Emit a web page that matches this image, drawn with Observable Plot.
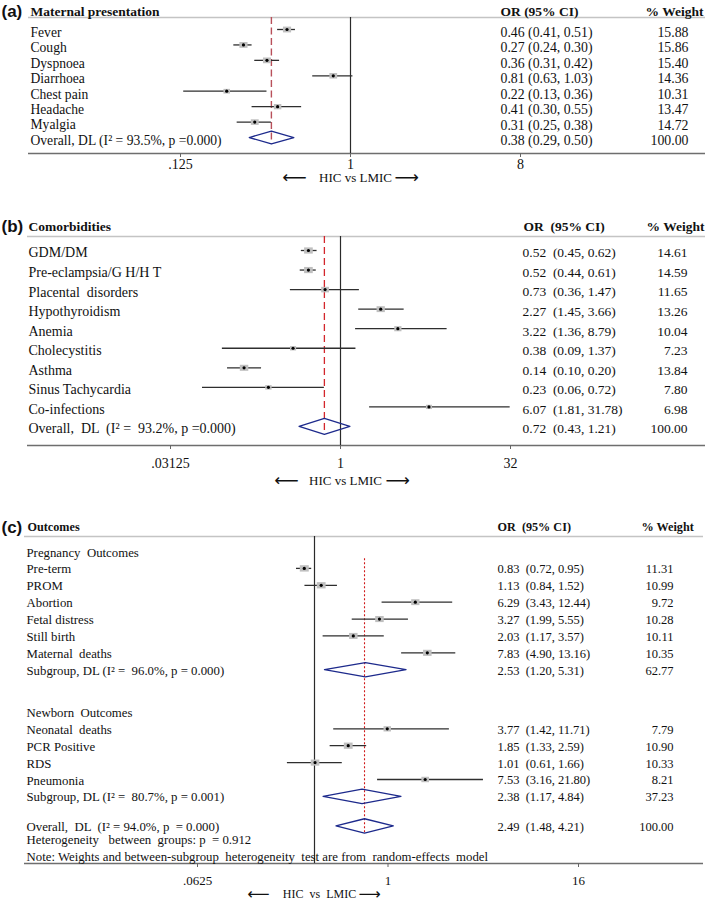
<!DOCTYPE html>
<html><head><meta charset="utf-8">
<script src="https://cdn.jsdelivr.net/npm/d3@7"></script>
<script src="https://cdn.jsdelivr.net/npm/@observablehq/plot@0.6"></script>
<style>
body{margin:0;background:#fff;}
#wrap{position:relative;width:709px;height:902px;overflow:hidden;background:#fff;}
#wrap > svg{position:absolute;left:0;}
</style></head><body><div id="wrap"></div>
<script>
// ---------- DATA ----------
// (a) Maternal presentation
const aLabels = ["Fever","Cough","Dyspnoea","Diarrhoea","Chest pain","Headache","Myalgia"];
const aOR     = [0.46, 0.27, 0.36, 0.81, 0.22, 0.41, 0.31];
const aLo     = [0.41, 0.24, 0.31, 0.63, 0.13, 0.30, 0.25];
const aHi     = [0.51, 0.30, 0.42, 1.03, 0.36, 0.55, 0.38];
const aWeight = [15.88, 15.86, 15.40, 14.36, 10.31, 13.47, 14.72];
const aOverallLabel = "Overall, DL (I² = 93.5%, p =0.000)";
const aOverall = [0.38, 0.29, 0.50, 100.00];
const aTicks = [0.125, 1, 8];

// (b) Comorbidities
const bLabels = ["GDM/DM","Pre-eclampsia/G H/H T","Placental  disorders","Hypothyroidism","Anemia","Cholecystitis","Asthma","Sinus Tachycardia","Co-infections"];
const bOR     = [0.52, 0.52, 0.73, 2.27, 3.22, 0.38, 0.14, 0.23, 6.07];
const bLo     = [0.45, 0.44, 0.36, 1.45, 1.36, 0.09, 0.10, 0.06, 1.81];
const bHi     = [0.62, 0.61, 1.47, 3.66, 8.79, 1.37, 0.20, 0.72, 31.78];
const bWeight = [14.61, 14.59, 11.65, 13.26, 10.04, 7.23, 13.84, 7.80, 6.98];
const bOverallLabel = "Overall,  DL  (I² =  93.2%, p =0.000)";
const bOverall = [0.72, 0.43, 1.21, 100.00];
const bTicks = [0.03125, 1, 32];

// (c) Outcomes
const cPregHeader = "Pregnancy  Outcomes";
const cPregLabels = ["Pre-term","PROM","Abortion","Fetal distress","Still birth","Maternal  deaths"];
const cPregOR     = [0.83, 1.13, 6.29, 3.27, 2.03, 7.83];
const cPregLo     = [0.72, 0.84, 3.43, 1.99, 1.17, 4.90];
const cPregHi     = [0.95, 1.52, 12.44, 5.55, 3.57, 13.16];
const cPregWeight = [11.31, 10.99, 9.72, 10.28, 10.11, 10.35];
const cPregSubLabel = "Subgroup, DL (I² =  96.0%, p = 0.000)";
const cPregSub = [2.53, 1.20, 5.31, 62.77];
const cNewbHeader = "Newborn  Outcomes";
const cNewbLabels = ["Neonatal  deaths","PCR Positive","RDS","Pneumonia"];
const cNewbOR     = [3.77, 1.85, 1.01, 7.53];
const cNewbLo     = [1.42, 1.33, 0.61, 3.16];
const cNewbHi     = [11.71, 2.59, 1.66, 21.80];
const cNewbWeight = [7.79, 10.90, 10.33, 8.21];
const cNewbSubLabel = "Subgroup, DL (I² =  80.7%, p = 0.001)";
const cNewbSub = [2.38, 1.17, 4.84, 37.23];
const cOverallLabel = "Overall,  DL  (I² = 94.0%, p  = 0.000)";
const cOverall = [2.49, 1.48, 4.21, 100.00];
const cHetLabel = "Heterogeneity   between  groups: p  = 0.912";
const cNoteLabel = "Note: Weights and between-subgroup  heterogeneity  test are from  random-effects  model";
const cTicks = [0.0625, 1, 16];

const orHeader = "OR (95% CI)";
const orHeader2 = "OR  (95% CI)";
const wHeader = "% Weight";
const axisTitle = "HIC vs LMIC";
const axisTitleC = "HIC  vs  LMIC";

// ---------- HELPERS ----------
const SERIF = "'Liberation Serif','Times New Roman',serif";
const SANS = "'Liberation Sans',Arial,sans-serif";
const NAVY = "#1d2a8c";
const f2 = v => v.toFixed(2);
const tickFmt = d => d < 1 ? String(d).replace(/^0/, "") : String(d);
const rectSym = {draw(ctx, size){ const a = 1.4; const h = Math.sqrt(size / a), w = h * a; ctx.rect(-w/2, -h/2, w, h); }};

function studies(labels, or, lo, hi, w, slots) {
  return labels.map((label, i) => ({label, or: or[i], lo: lo[i], hi: hi[i], w: w[i], slot: slots[i]}));
}
function pooled(label, arr, slot) {
  return {label, or: arr[0], lo: arr[1], hi: arr[2], w: arr[3], slot};
}

function panel(P) {
  const y0 = (P.frameTop - P.firstRow) / P.step;
  const y1 = (P.frameBottom - P.firstRow) / P.step;
  const L = P.marginLeft;
  const verts = P.diamonds.flatMap((d, i) =>
    [[d.lo, 0], [d.or, -1], [d.hi, 0], [d.or, 1], [d.lo, 0]].map(([x, k]) => ({id: i, x, y: d.slot + k * P.dh})));
  const valued = P.studies.concat(P.diamonds);
  const labelled = valued.concat(P.notes || []);
  const last = P.diamonds[P.diamonds.length - 1];
  const bold = {fontWeight: "bold", fontFamily: SERIF, fontSize: P.headSize, frameAnchor: "top-left", lineAnchor: "middle", dy: P.titleDy, textAnchor: "start"};
  const marks = [
    Plot.ruleY([y0], {stroke: "#c4c4c4", strokeWidth: 1.6}),
    Plot.ruleY([y1], {stroke: "#6e6e6e", strokeWidth: 1.3}),
    Plot.ruleX([1], {stroke: "#2a2a2a", strokeWidth: 1.2}),
    Plot.ruleX([last.or], {y1: P.redTop ?? y0, y2: last.slot + P.dh, stroke: P.red, strokeDasharray: P.dash, strokeWidth: P.redW}),
    Plot.ruleY(P.studies, {y: "slot", x1: "lo", x2: "hi", stroke: "#2e2e2e", strokeWidth: 1.3}),
    Plot.dot(P.studies, {x: "or", y: "slot", r: "w", symbol: rectSym, fill: "#bfbfbf"}),
    Plot.dot(P.studies, {x: "or", y: "slot", r: 1.6, fill: "#000"}),
    Plot.line(verts, {x: "x", y: "y", z: "id", stroke: NAVY, strokeWidth: 1.3}),
    Plot.text(labelled, {y: "slot", text: "label", frameAnchor: "left", dx: P.labelX - L, dy: P.textDy, textAnchor: "start", fontSize: P.labelSize}),
    Plot.text(valued, {y: "slot", text: d => `${f2(d.or)}${P.sep}(${f2(d.lo)}, ${f2(d.hi)})`, frameAnchor: "left", dx: P.orX - L, dy: P.textDy, textAnchor: "start", fontSize: P.valSize}),
    Plot.text(valued, {y: "slot", text: d => f2(d.w), frameAnchor: "left", dx: P.wX - L, dy: P.textDy, textAnchor: "end", fontSize: P.valSize}),
    Plot.text([P.tag], {text: d => d, frameAnchor: "top-left", dx: 1 - L, dy: P.titleDy, lineAnchor: "middle", textAnchor: "start", fontFamily: SANS, fontWeight: "bold", fontSize: 17}),
    Plot.text([P.title], {...bold, text: d => d, dx: P.titleX - L}),
    Plot.text([P.orHead], {...bold, text: d => d, dx: P.orHeadX - L}),
    Plot.text([wHeader], {...bold, text: d => d, dx: P.wHeadX - L}),
    Plot.text([1], {x: d => d, text: () => P.hicText, frameAnchor: "bottom", dy: P.hicDy, dx: 5, lineAnchor: "middle", fontSize: P.hicSize}),
    Plot.text([1], {x: d => d, text: () => "\u27F5", frameAnchor: "bottom", dy: P.hicDy, dx: P.arrL, textAnchor: "end", lineAnchor: "middle", fontFamily: "'DejaVu Sans'", fontSize: P.arrSize}),
    Plot.text([1], {x: d => d, text: () => "\u27F6", frameAnchor: "bottom", dy: P.hicDy, dx: P.arrR, textAnchor: "start", lineAnchor: "middle", fontFamily: "'DejaVu Sans'", fontSize: P.arrSize})
  ];
  if (P.ticks) marks.push(Plot.axisX({ticks: P.ticks, tickFormat: tickFmt, tickSize: 4, tickPadding: P.tickPad, fontSize: P.tickFont, stroke: "#666", label: null}));
  const svg = Plot.plot({
    width: 709, height: P.height,
    marginTop: P.frameTop, marginBottom: P.height - P.frameBottom, marginLeft: L, marginRight: P.marginRight,
    x: {type: "log", base: 2, domain: P.xDomain, range: P.xRange, label: null, axis: P.ticks ? undefined : null},
    y: {domain: [y0, y1], range: [P.frameTop, P.frameBottom], axis: null, label: null},
    r: {type: "sqrt", domain: [0, P.wMax], range: [0, P.rMax]},
    style: {fontFamily: SERIF, fontSize: "13px", color: "#111", background: "transparent", overflow: "visible"},
    marks
  });
  svg.style.top = P.top + "px";
  return svg;
}

const wrap = document.getElementById("wrap");

// ---------- PANEL A ----------
wrap.appendChild(panel({
  top: 0, height: 195, frameTop: 17, frameBottom: 153, firstRow: 29, step: 15.43,
  marginLeft: 28, marginRight: 4, xDomain: [0.125, 8], xRange: [180, 520],
  studies: studies(aLabels, aOR, aLo, aHi, aWeight, aLabels.map((_, i) => i)),
  diamonds: [pooled(aOverallLabel, aOverall, aLabels.length)],
  dh: 0.42, red: "#b8505a", dash: "7,3.5", redW: 1.4,
  wMax: 16, rMax: 3.9, labelX: 30, labelSize: 13.6, valSize: 13.8, textDy: 3, sep: " ",
  orX: 500, wX: 688, tag: "(a)", title: "Maternal presentation", titleX: 30, orHead: orHeader, orHeadX: 500, wHeadX: 645,
  headSize: 13.5, titleDy: -6, ticks: aTicks, tickPad: 1.5, tickFont: 14, hicDy: 24.5, hicSize: 13, hicText: axisTitle, arrL: -44, arrR: 44, arrSize: 17
}));

// ---------- PANEL B ----------
wrap.appendChild(panel({
  top: 195, height: 300, frameTop: 41, frameBottom: 250, firstRow: 55, step: 19.55,
  marginLeft: 27, marginRight: 4, xDomain: [0.03125, 32], xRange: [170, 510],
  studies: studies(bLabels, bOR, bLo, bHi, bWeight, bLabels.map((_, i) => i)),
  diamonds: [pooled(bOverallLabel, bOverall, bLabels.length)],
  dh: 0.41, red: "#d3262c", dash: "7,4", redW: 1.3,
  wMax: 15, rMax: 4.2, labelX: 28, labelSize: 14, valSize: 13.5, textDy: 2.5, sep: "  ",
  orX: 522, wX: 687, tag: "(b)", title: "Comorbidities", titleX: 28, orHead: orHeader2, orHeadX: 523, wHeadX: 646,
  headSize: 13.5, titleDy: -10, ticks: bTicks, tickPad: 8.5, tickFont: 14, hicDy: 35, hicSize: 13, hicText: axisTitle, arrL: -42, arrR: 45, arrSize: 17
}));

// ---------- PANEL C ----------
const cPregSlots = [2, 4, 6, 8, 10, 12];
const cNewbSlots = [21, 23, 25, 27];
wrap.appendChild(panel({
  top: 495, height: 407, frameTop: 41, frameBottom: 368, firstRow: 56, step: 8.444,
  marginLeft: 24, marginRight: 6, xDomain: [0.0625, 16], xRange: [162, 466],
  studies: studies(cPregLabels, cPregOR, cPregLo, cPregHi, cPregWeight, cPregSlots)
    .concat(studies(cNewbLabels, cNewbOR, cNewbLo, cNewbHi, cNewbWeight, cNewbSlots)),
  diamonds: [pooled(cPregSubLabel, cPregSub, 14), pooled(cNewbSubLabel, cNewbSub, 29), pooled(cOverallLabel, cOverall, 32.5)],
  notes: [{label: cPregHeader, slot: 0}, {label: cNewbHeader, slot: 19}, {label: cHetLabel, slot: 34}, {label: cNoteLabel, slot: 36}],
  dh: 0.85, red: "#d01818", dash: "2,2", redW: 1.1, redTop: 0.85,
  wMax: 11.5, rMax: 4.3, labelX: 26, labelSize: 12.8, valSize: 12.5, textDy: 1, sep: "  ",
  orX: 497, wX: 673, tag: "(c)", title: "Outcomes", titleX: 27, orHead: orHeader2, orHeadX: 497, wHeadX: 641,
  headSize: 12.2, titleDy: -9, ticks: null, hicDy: 31, hicSize: 12, hicText: axisTitleC, arrL: -45, arrR: 44, arrSize: 15.5
}));

// Panel C tick axis (drawn with its own scale, as printed in the source figure)
const cAxis = Plot.plot({
  width: 709, height: 407, marginTop: 41, marginBottom: 39, marginLeft: 24, marginRight: 6,
  x: {type: "log", base: 2, domain: [0.0625, 16], range: [197, 578], label: null},
  style: {fontFamily: SERIF, color: "#111", background: "transparent", overflow: "visible"},
  marks: [Plot.axisX({ticks: cTicks, tickFormat: tickFmt, tickSize: 4, tickPadding: 8, fontSize: 13, stroke: "#666", label: null})]
});
cAxis.style.top = "495px";
wrap.appendChild(cAxis);
</script></body></html>
